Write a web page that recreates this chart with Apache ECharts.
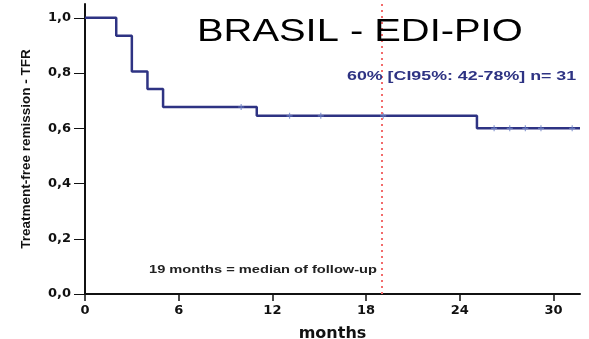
<!DOCTYPE html>
<html><head><meta charset="utf-8">
<script src="https://cdn.jsdelivr.net/npm/echarts@6/dist/echarts.min.js"></script>
<style>html,body{margin:0;padding:0;background:#fff}#c{width:589px;height:339px}</style>
</head><body><div id="c"></div>
<script>
// Kaplan-Meier step points (month, survival)
const stepMonths = [0, 2, 3, 4, 5, 11, 25.1, 31.7];
const stepValues = [1.0, 0.935, 0.806, 0.742, 0.677, 0.645, 0.60, 0.60];
// censored observations
const censorMonths = [10, 13.1, 15.1, 19.1, 26.2, 27.2, 28.2, 29.2, 31.2];
const censorValues = [0.677, 0.645, 0.645, 0.645, 0.60, 0.60, 0.60, 0.60, 0.60];
const xTicks = [0, 6, 12, 18, 24, 30];
const yTicks = [0, 0.2, 0.4, 0.6, 0.8, 1.0];
const medianFollowUp = 19;
const titleText = 'BRASIL - EDI-PIO';
const estimateText = '60% [CI95%: 42-78%] n= 31';
const medianText = '19 months = median of follow-up';

const F = 'Liberation Sans, Arial, sans-serif';
const D = 'DejaVu Sans, sans-serif';
const chart = echarts.init(document.getElementById('c'), null, {renderer: 'canvas'});
chart.setOption({
  animation: false,
  backgroundColor: '#fff',
  grid: {left: 85, right: 9, top: 4, bottom: 45, containLabel: false, outerBoundsMode: 'none'},
  xAxis: {
    type: 'value', min: 0, max: 31.7,
    name: 'months', nameLocation: 'middle', nameGap: 32, nameMoveOverlap: false,
    nameTextStyle: {fontFamily: D, fontSize: 16, fontWeight: 'bold', color: '#111'},
    axisLine: {show: true, onZero: false, lineStyle: {color: '#111', width: 2}},
    axisTick: {show: true, length: 7, customValues: xTicks, lineStyle: {color: '#111', width: 1.5}},
    axisLabel: {customValues: xTicks, margin: 10, fontFamily: D, fontSize: 13, fontWeight: 'bold', color: '#111'},
    splitLine: {show: false}
  },
  yAxis: {
    type: 'value', min: 0, max: 1.05,
    name: 'Treatment-free remission - TFR', nameLocation: 'middle', nameGap: 52, nameRotate: 90, nameMoveOverlap: false,
    nameTextStyle: {fontFamily: F, fontSize: 13.5, fontWeight: 'bold', color: '#111'},
    axisLine: {show: true, lineStyle: {color: '#111', width: 2}},
    axisTick: {show: true, length: 11, customValues: yTicks, lineStyle: {color: '#111', width: 1}},
    axisLabel: {customValues: yTicks, margin: 14, fontFamily: D, fontSize: 13, fontWeight: 'bold', color: '#111',
      formatter: v => v.toFixed(1).replace('.', ',')},
    splitLine: {show: false}
  },
  series: [
    {
      type: 'line', step: 'end', symbol: 'none',
      data: stepMonths.map((m, i) => [m, stepValues[i]]),
      lineStyle: {color: '#2E3383', width: 2.5},
      markLine: {
        silent: true, symbol: 'none', label: {show: false},
        lineStyle: {color: '#F26B6B', type: [2, 4], width: 2},
        data: [{xAxis: medianFollowUp}]
      },
      z: 3
    },
    {
      type: 'scatter', symbol: 'path://M4,0L6,0L6,4L10,4L10,6L6,6L6,10L4,10L4,6L0,6L0,4L4,4Z',
      symbolSize: 6,
      itemStyle: {color: '#7085C8'},
      data: censorMonths.map((m, i) => [m, censorValues[i]]),
      z: 4
    }
  ],
  graphic: [
    {type: 'text', x: 197, y: 16, scaleX: 1.246, z: 10,
      style: {text: titleText, fontFamily: F, fontSize: 32, fontWeight: 'normal', fill: '#000',
        textAlign: 'left', textVerticalAlign: 'top'}},
    {type: 'text', x: 347, y: 70, scaleX: 1.37, z: 10,
      style: {text: estimateText, fontFamily: F, fontSize: 13, fontWeight: 'bold', fill: '#2E3383',
        textAlign: 'left', textVerticalAlign: 'top'}},
    {type: 'text', x: 149, y: 264, scaleX: 1.33, z: 10,
      style: {text: medianText, fontFamily: F, fontSize: 11, fontWeight: 'bold', fill: '#222',
        textAlign: 'left', textVerticalAlign: 'top'}}
  ]
});
</script></body></html>
